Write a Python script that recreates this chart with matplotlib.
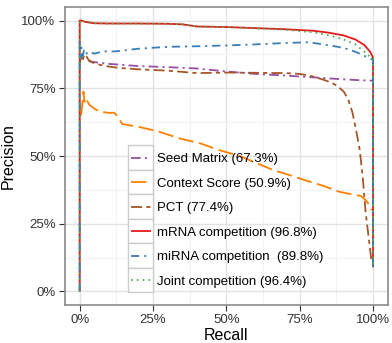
import matplotlib
matplotlib.use("Agg")
import matplotlib.pyplot as plt
from matplotlib.patches import Rectangle
from matplotlib.ticker import FixedLocator, FuncFormatter

plt.rcParams['font.family'] = ['Liberation Sans', 'DejaVu Sans']
plt.rcParams['lines.scale_dashes'] = False

# ---------------- data ----------------
labels = ["Seed Matrix (67.3%)", "Context Score (50.9%)", "PCT (77.4%)",
          "mRNA competition (96.8%)", "miRNA competition  (89.8%)",
          "Joint competition (96.4%)"]
colors = ["#984EA3", "#FF7F00", "#A65628", "#E41A1C", "#377EB8", "#4DAF4A"]

seed_recall = [0.03, 0.06, 0.1, 0.2, 0.3, 0.4, 0.5, 0.6, 0.7, 0.8, 0.9, 0.95, 1.0]
seed_prec = [0.85, 0.845, 0.84, 0.832, 0.828, 0.823, 0.812, 0.803, 0.797, 0.79, 0.783, 0.78, 0.778]

ctx_recall = [0.005, 0.01, 0.013, 0.016, 0.02, 0.033, 0.05, 0.067, 0.1, 0.118, 0.13, 0.145,
              0.2, 0.27, 0.34, 0.41, 0.475, 0.545, 0.6, 0.66, 0.72, 0.77, 0.83, 0.885,
              0.93, 0.96, 0.975, 0.99, 0.995]
ctx_prec = [0.65, 0.70, 0.738, 0.70, 0.715, 0.689, 0.675, 0.664, 0.659, 0.66, 0.645, 0.618,
            0.608, 0.59, 0.565, 0.547, 0.522, 0.50, 0.475, 0.448, 0.428, 0.41, 0.39, 0.368,
            0.358, 0.352, 0.337, 0.315, 0.30]

pct_recall = [0.0, 0.005, 0.01, 0.015, 0.023, 0.03, 0.044, 0.067, 0.1, 0.135, 0.2, 0.3, 0.4,
              0.5, 0.6, 0.7, 0.75, 0.79, 0.83, 0.86, 0.88, 0.9, 0.915, 0.93, 0.945, 0.955,
              0.965, 0.975, 0.985, 0.995]
pct_prec = [0.84, 0.87, 0.85, 0.875, 0.868, 0.855, 0.845, 0.837, 0.83, 0.825, 0.82, 0.815,
            0.806, 0.808, 0.807, 0.806, 0.803, 0.795, 0.782, 0.77, 0.757, 0.738, 0.71, 0.66,
            0.58, 0.52, 0.42, 0.29, 0.20, 0.11]

mrna_recall = [0, 0, 0.005, 0.02, 0.05, 0.1, 0.2, 0.3, 0.35, 0.4, 0.5, 0.6, 0.7, 0.8, 0.85,
               0.9, 0.94, 0.97, 0.99, 1.0, 1.0]
mrna_prec = [0, 1.0, 1.0, 0.995, 0.99, 0.989, 0.989, 0.988, 0.986, 0.978, 0.976, 0.972, 0.968,
             0.962, 0.955, 0.945, 0.93, 0.91, 0.885, 0.863, 0.089]

mirna_recall = [0, 0, 0.003, 0.006, 0.01, 0.015, 0.02, 0.03, 0.05, 0.08, 0.12, 0.2, 0.3, 0.4,
                0.5, 0.6, 0.7, 0.78, 0.83, 0.88, 0.92, 0.95, 0.98, 1.0, 1.0]
mirna_prec = [0, 0.92, 0.86, 0.90, 0.87, 0.89, 0.875, 0.885, 0.878, 0.886, 0.886, 0.896, 0.903,
              0.905, 0.908, 0.912, 0.917, 0.92, 0.912, 0.903, 0.893, 0.88, 0.865, 0.855, 0.089]

joint_recall = [0, 0, 0.005, 0.02, 0.05, 0.1, 0.2, 0.3, 0.35, 0.4, 0.5, 0.6, 0.7, 0.8, 0.85,
                0.9, 0.94, 0.97, 0.99, 1.0, 1.0]
joint_prec = [0, 1.0, 1.0, 0.995, 0.99, 0.989, 0.989, 0.988, 0.986, 0.978, 0.976, 0.971, 0.966,
              0.956, 0.945, 0.93, 0.912, 0.885, 0.866, 0.86, 0.089]

x_ticks = [0, 0.25, 0.5, 0.75, 1.0]
y_ticks = [0, 0.25, 0.5, 0.75, 1.0]

series = [(seed_recall, seed_prec), (ctx_recall, ctx_prec), (pct_recall, pct_prec),
          (mrna_recall, mrna_prec), (mirna_recall, mirna_prec), (joint_recall, joint_prec)]
dashes = [(7, 3, 1.5, 3), (11, 4), (8, 3, 3, 3), None, (6, 3.5, 1.5, 3.5), (1.2, 3)]

# ---------------- figure ----------------
W, H = 392, 343
fig = plt.figure(figsize=(W / 100, H / 100), dpi=100)
ax = fig.add_axes([65 / W, 1 - 305 / H, (387.7 - 65) / W, (305 - 7) / H])

for (xs, ys), c, d, lab in zip(series, colors, dashes, labels):
    line, = ax.plot(xs, ys, color=c, lw=1.3, label=lab, solid_capstyle='butt')
    if d is not None:
        line.set_dashes(d)

ax.set_xlim(-0.05, 1.05)
ax.set_ylim(-0.05, 1.05)
ax.xaxis.set_major_locator(FixedLocator(x_ticks))
ax.yaxis.set_major_locator(FixedLocator(y_ticks))
ax.xaxis.set_minor_locator(FixedLocator([0.125, 0.375, 0.625, 0.875]))
ax.yaxis.set_minor_locator(FixedLocator([0.125, 0.375, 0.625, 0.875]))
pct = FuncFormatter(lambda v, p: f"{v * 100:.0f}%")
ax.xaxis.set_major_formatter(pct)
ax.yaxis.set_major_formatter(pct)

ax.grid(True, which='major', color='#E3E3E3', lw=1.0)
ax.grid(True, which='minor', color='#F3F3F3', lw=0.8)
ax.set_axisbelow(True)
for s in ax.spines.values():
    s.set_color('#8A8A8A')
    s.set_linewidth(1.2)
ax.tick_params(which='major', direction='out', length=4.3, width=0.8, color='#333333',
               labelsize=9.5, labelcolor='#333333', pad=2.5)
ax.tick_params(which='minor', length=0)

ax.set_xlabel("Recall", fontsize=11.5, labelpad=1)
ax.set_ylabel("Precision", fontsize=11.5, labelpad=4)

leg = ax.legend(loc='upper left', bbox_to_anchor=(131 / W, 1 - 153 / H),
                bbox_transform=fig.transFigure, frameon=False, fontsize=9.5,
                handlelength=1.5, handletextpad=0.5, labelspacing=0.93, borderpad=0,
                borderaxespad=0)
leg.set_zorder(6)

fig.canvas.draw()
renderer = fig.canvas.get_renderer()
handles = leg.legend_handles
centers = []
for h in handles:
    bb = h.get_window_extent(renderer)
    centers.append(((bb.x0 + bb.x1) / 2, (bb.y0 + bb.y1) / 2))
pitch = abs(centers[0][1] - centers[1][1])
inv = ax.transAxes.inverted()
for cx, cy in centers:
    (x0, y0) = inv.transform((cx - 12.5, cy - pitch / 2))
    (x1, y1) = inv.transform((cx + 12.5, cy + pitch / 2))
    ax.add_patch(Rectangle((x0, y0), x1 - x0, y1 - y0, transform=ax.transAxes,
                           facecolor='white', edgecolor='#CCCCCC', lw=1.0, zorder=5.5))

fig.savefig("out.png", dpi=100)
